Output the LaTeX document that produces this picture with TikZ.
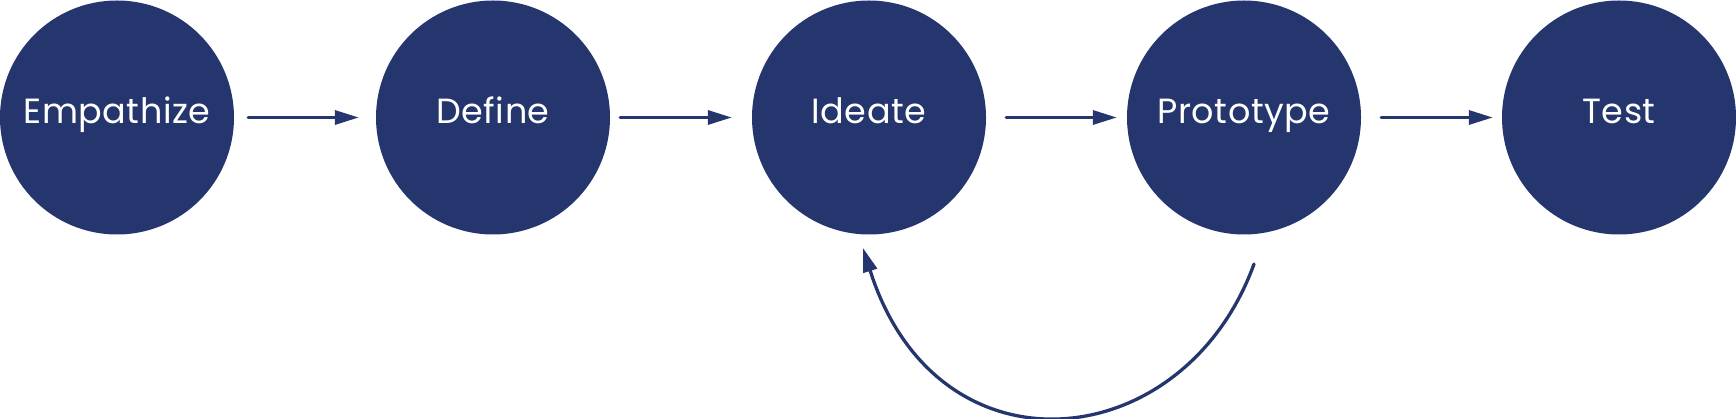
\documentclass[tikz,border=0pt]{standalone}
\usepackage{fontspec}
\setmainfont{Poppins}[LetterSpace=1.5]
\usetikzlibrary{arrows.meta}
\definecolor{navy}{HTML}{25366E}
\begin{document}
\begin{tikzpicture}[x=1pt,y=-1pt,
  stage/.style={circle,fill=navy,draw=none,minimum size=234pt,inner sep=0pt,
    text=white,font=\fontsize{35}{40}\selectfont,text height=24.5pt,text depth=12.5pt},
  arr/.style={draw=navy,line width=3.3pt,line cap=round,
    -{Triangle[length=24pt,width=14pt]}}]
\useasboundingbox (0,0) rectangle (1736,419);
\node[stage] (emp) at (117,117.5) {Empathize};
\node[stage] (def) at (493,117.5) {Define};
\node[stage] (ide) at (869,117.5) {Ideate};
\node[stage] (pro) at (1244,117.5) {Prototype};
\node[stage] (tst) at (1619,117.5) {Test};
\draw[arr,shorten <=14pt,shorten >=17pt] (emp) -- (def);
\draw[arr,shorten <=10pt,shorten >=20pt] (def) -- (ide);
\draw[arr,shorten <=20pt,shorten >=10pt] (ide) -- (pro);
\draw[arr,shorten <=20pt,shorten >=9pt] (pro) -- (tst);
\coordinate (cs) at (1254,264);
\coordinate (ce) at (863,248);
\draw[arr] (cs) .. controls (1184,457) and (937,482) .. (ce);
\end{tikzpicture}
\end{document}
